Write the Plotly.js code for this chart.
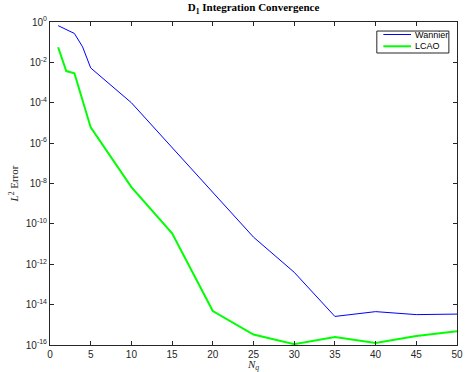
<!DOCTYPE html>
<html><head><meta charset="utf-8">
<script src="https://cdn.plot.ly/plotly-3.0.1.min.js"></script>
<style>html,body{margin:0;padding:0;background:#fff;}#chart{width:465px;height:372px;}</style>
</head><body><div id="chart"></div>
<script>
const nq = [1, 2, 3, 4, 5, 10, 15, 20, 25, 30, 35, 40, 45, 50];
const wannier = [0.66, 0.42, 0.27, 0.059, 0.0053, 1.0e-4, 5.9e-7, 3.6e-9, 2.2e-11, 4.0e-13, 2.6e-15, 4.5e-15, 3.2e-15, 3.4e-15];
const lcao = [0.056, 0.0037, 0.0029, 1.3e-4, 6.0e-6, 6.6e-9, 3.4e-11, 4.8e-15, 3.3e-16, 1.1e-16, 2.5e-16, 1.26e-16, 2.8e-16, 4.8e-16];
const seriesNames = ['Wannier', 'LCAO'];
const seriesColors = ['rgb(0,0,255)', 'rgb(0,255,0)'];
const seriesWidths = [1, 2];
const yTickVals = [1e-16, 1e-14, 1e-12, 1e-10, 1e-8, 1e-6, 1e-4, 1e-2, 1];
const yTickText = ['10<sup>-16</sup>','10<sup>-14</sup>','10<sup>-12</sup>','10<sup>-10</sup>','10<sup>-8</sup>','10<sup>-6</sup>','10<sup>-4</sup>','10<sup>-2</sup>','10<sup>0</sup>'];
const xTickVals = [0, 5, 10, 15, 20, 25, 30, 35, 40, 45, 50];

const axisCommon = {
  showline: true, mirror: 'ticks', linecolor: '#262626', linewidth: 1,
  ticks: 'inside', ticklen: 4, tickcolor: '#262626', showgrid: false, zeroline: false,
  tickfont: {family: 'Liberation Sans, Arial, sans-serif', size: 10, color: '#262626'}
};

const data = [
  {x: nq, y: wannier, type: 'scatter', mode: 'lines', name: seriesNames[0], line: {color: seriesColors[0], width: seriesWidths[0]}, showlegend: false},
  {x: nq, y: lcao, type: 'scatter', mode: 'lines', name: seriesNames[1], line: {color: seriesColors[1], width: seriesWidths[1]}, showlegend: false}
];

// Manual MATLAB-style legend box (paper coordinates)
const legX0 = 0.803, legX1 = 0.98, legY0 = 0.904, legY1 = 0.972;
const legRowY = [0.9613, 0.9248];
const shapes = [
  {type: 'rect', xref: 'paper', yref: 'paper', x0: legX0, x1: legX1, y0: legY0, y1: legY1,
   line: {color: '#262626', width: 1}, fillcolor: '#fff', layer: 'above'}
];
const annotations = [];
seriesNames.forEach((nm, i) => {
  shapes.push({type: 'line', xref: 'paper', yref: 'paper', x0: 0.819, x1: 0.887, y0: legRowY[i], y1: legRowY[i],
               line: {color: seriesColors[i], width: seriesWidths[i]}, layer: 'above'});
  annotations.push({xref: 'paper', yref: 'paper', x: 0.891, y: legRowY[i], xanchor: 'left', yanchor: 'middle',
                    text: nm, showarrow: false, font: {family: 'Liberation Sans, Arial, sans-serif', size: 9, color: '#000'}});
});

const layout = {
  width: 465, height: 372,
  margin: {l: 50, r: 8, t: 22, b: 27},
  paper_bgcolor: '#fff', plot_bgcolor: '#fff',
  showlegend: false,
  shapes: shapes, annotations: annotations,
  title: {text: '<b>D<sub>1</sub> Integration Convergence</b>', xref: 'paper', x: 0.5, xanchor: 'center', y: 0.99, yanchor: 'top',
          font: {family: 'Liberation Serif, DejaVu Serif, serif', size: 11, color: '#000'}},
  xaxis: Object.assign({}, axisCommon, {
    range: [0, 50], tickvals: xTickVals,
    title: {text: '<i>N<sub>q</sub></i>', standoff: 7, font: {family: 'Liberation Serif, serif', size: 11, color: '#262626'}}
  }),
  yaxis: Object.assign({}, axisCommon, {
    type: 'log', range: [-16, 0], tickvals: yTickVals, ticktext: yTickText,
    title: {text: '<i>L</i><sup>2</sup> Error', standoff: 4, font: {family: 'Liberation Serif, serif', size: 11, color: '#262626'}}
  })
};

Plotly.newPlot('chart', data, layout, {displayModeBar: false, staticPlot: true});
</script>
</body></html>
